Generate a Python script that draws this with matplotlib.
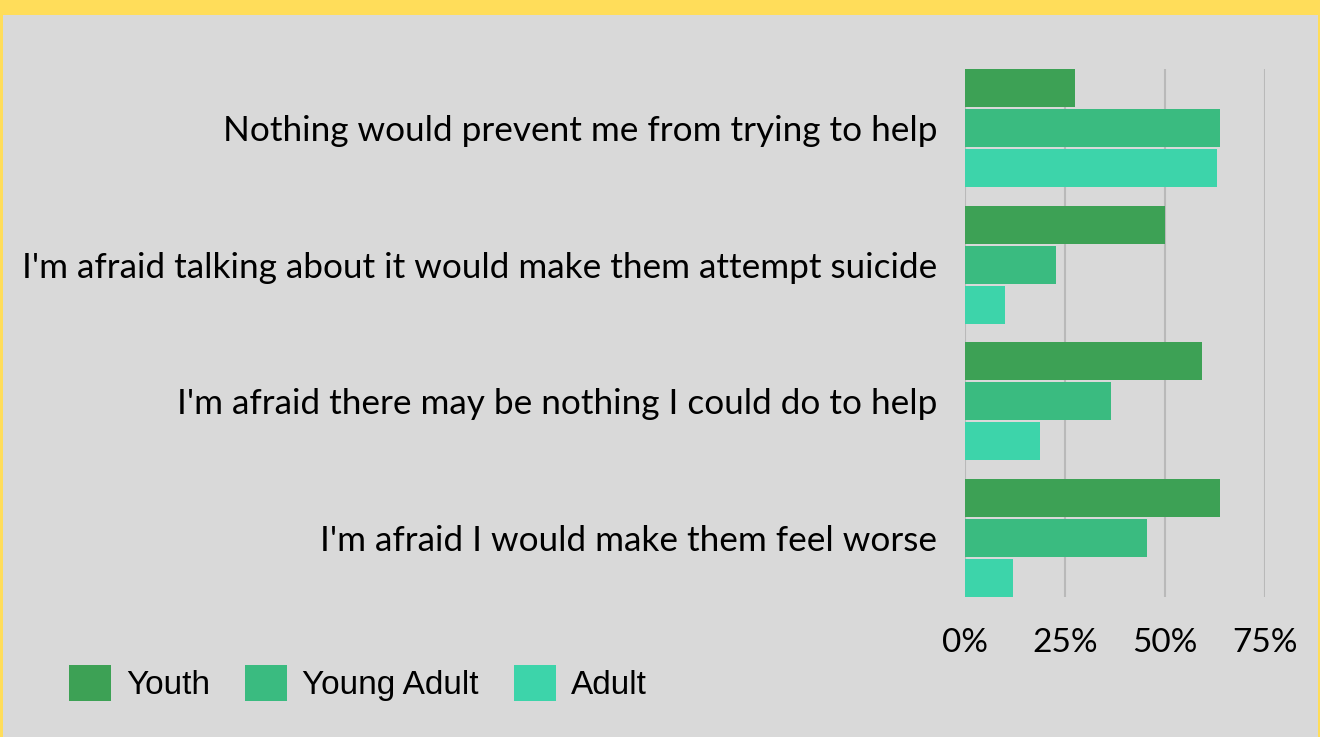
import matplotlib
matplotlib.use("Agg")
import matplotlib.pyplot as plt
import numpy as np
from matplotlib.patches import Rectangle

categories = [
    "Nothing would prevent me from trying to help",
    "I'm afraid talking about it would make them attempt suicide",
    "I'm afraid there may be nothing I could do to help",
    "I'm afraid I would make them feel worse",
]
series_names = ["Youth", "Young Adult", "Adult"]
youth = [27.4, 50.0, 59.3, 63.7]
young_adult = [63.7, 22.8, 36.5, 45.6]
adult = [62.9, 9.9, 18.7, 11.9]
x_ticks = [0, 25, 50, 75]
x_tick_labels = ["0%", "25%", "50%", "75%"]

COLORS = ["#3da155", "#3abb80", "#3dd4aa"]
BG = "#d9d9d9"
BORDER = "#ffdd5a"
GRID = "#b9b9b9"

fig = plt.figure(figsize=(13.2, 7.37), dpi=100, facecolor=BORDER)
fig.patches.append(Rectangle((3 / 1320, 0), 1315 / 1320, 722 / 737,
                             transform=fig.transFigure, facecolor=BG,
                             edgecolor="none", zorder=-10))

ax = fig.add_axes([965 / 1320, 140 / 737, 300 / 1320, 528 / 737])
ax.set_facecolor("none")

y = np.arange(len(categories))
step = 40 / 136.5
height = 38 / 136.5
bars = []
for i, (vals, color, name) in enumerate(zip([youth, young_adult, adult], COLORS, series_names)):
    b = ax.barh(y + (i - 1) * step, vals, height=height, color=color, label=name, zorder=3)
    bars.append(b)

ax.set_xlim(0, 75)
ax.set_ylim(len(categories) - 1 + 0.432, -0.432)
ax.set_xticks(x_ticks)
ax.set_xticklabels(x_tick_labels, fontsize=24, family="Lato")
ax.set_yticks(y)
ax.set_yticklabels(categories, fontsize=25.3, family="Lato")
ax.tick_params(axis="x", length=0, pad=22)
ax.tick_params(axis="y", length=0, pad=20)
for spine in ax.spines.values():
    spine.set_visible(False)
ax.grid(axis="x", color=GRID, linewidth=1.5, zorder=0)
ax.set_axisbelow(True)

fig.legend(handles=bars, labels=series_names, loc="center left",
           bbox_to_anchor=(69 / 1320, 1 - 683 / 737), ncol=3, frameon=False,
           prop={"family": "Liberation Sans", "size": 24},
           handlelength=1.26, handleheight=1.26, handletextpad=0.45,
           columnspacing=1.05, borderpad=0, borderaxespad=0)

fig.savefig("out.png", dpi=100, facecolor=BORDER)
